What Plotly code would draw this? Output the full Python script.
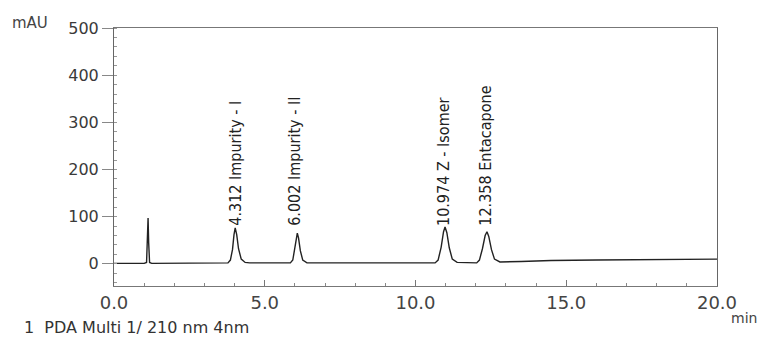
import plotly.graph_objects as go

# Chromatogram points (time in min, absorbance in mAU)
time_min = [0.0, 1.0, 1.08, 1.11, 1.13, 1.15, 1.18, 1.25,
            3.7, 3.78, 3.86, 3.93, 3.98, 4.02, 4.07, 4.13, 4.22, 4.35, 4.5,
            5.85, 5.93, 6.0, 6.05, 6.08, 6.12, 6.18, 6.26, 6.4,
            10.65, 10.75, 10.85, 10.93, 10.98, 11.04, 11.12, 11.22, 11.38,
            11.95, 12.03, 12.12, 12.22, 12.31, 12.37, 12.43, 12.52, 12.62, 12.8,
            13.5, 14.5, 16.0, 18.0, 20.0]
absorbance = [1, 1, 3, 60, 97, 45, 3, 1,
              2, 2, 8, 30, 62, 76, 62, 32, 10, 3, 2,
              2, 8, 32, 56, 65, 55, 28, 8, 2,
              2, 8, 35, 68, 78, 66, 34, 10, 3,
              2, 2, 8, 32, 60, 68, 58, 30, 10, 4,
              5, 7, 8, 9, 10]

# Peak labels
label_times = [4.02, 5.98, 10.93, 12.33]
label_texts = ["4.312 Impurity - I", "6.002 Impurity - II",
               "10.974 Z - Isomer", "12.358 Entacapone"]

x_ticks = [0, 5, 10, 15, 20]
y_ticks = [0, 100, 200, 300, 400, 500]

fig = go.Figure()
fig.add_trace(go.Scatter(x=time_min, y=absorbance, mode="lines",
                         line=dict(color="#222222", width=1.4),
                         hoverinfo="skip", showlegend=False))

label_font = dict(family="Liberation Sans Narrow, DejaVu Sans Condensed, Arial Narrow",
                  size=16, color="#222222")
for t, txt in zip(label_times, label_texts):
    fig.add_annotation(x=t, y=76, text=txt, textangle=-90, showarrow=False,
                       xanchor="center", yanchor="bottom", font=label_font)

fig.add_annotation(xref="paper", yref="paper", x=-0.172, y=1.02, text="mAU",
                   showarrow=False, xanchor="left", yanchor="middle",
                   font=dict(family="DejaVu Sans", size=15, color="#444444"))
fig.add_annotation(xref="paper", yref="paper", x=1.02, y=-0.124, text="min",
                   showarrow=False, xanchor="left", yanchor="middle",
                   font=dict(family="DejaVu Sans", size=14, color="#444444"))
fig.add_annotation(xref="paper", yref="paper", x=-0.153, y=-0.162,
                   text="1  PDA Multi 1/ 210 nm 4nm",
                   showarrow=False, xanchor="left", yanchor="middle",
                   font=dict(family="DejaVu Sans", size=16, color="#333333"))

fig.update_layout(
    width=761, height=338,
    margin=dict(l=114, r=44, t=28, b=52),
    paper_bgcolor="white", plot_bgcolor="white",
    xaxis=dict(range=[0, 20], tickvals=x_ticks, tickformat=".1f",
               showgrid=False, zeroline=False, showline=True, mirror=True,
               linecolor="#777777", linewidth=1,
               ticks="inside", ticklen=6, tickcolor="#777777",
               minor=dict(dtick=1, ticks="inside", ticklen=3, tickcolor="#888888"),
               tickfont=dict(family="DejaVu Sans, Verdana", size=18, color="#444444")),
    yaxis=dict(range=[-47, 500], tickvals=y_ticks,
               showgrid=False, zeroline=False, showline=True, mirror=True,
               linecolor="#666666", linewidth=1,
               ticks="outside", ticklen=11, tickcolor="#888888",
               minor=dict(dtick=20, ticks="inside", ticklen=3, tickcolor="#999999"),
               tickfont=dict(family="DejaVu Sans, Verdana", size=16, color="#3a3a3a")),
)

fig.write_html("out.html", config={"displayModeBar": False},
               post_script="document.body.style.margin='0';")
